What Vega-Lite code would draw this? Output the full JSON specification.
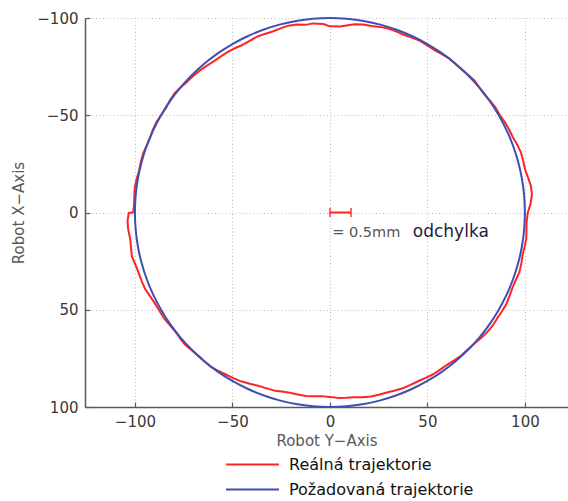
{
  "$schema": "https://vega.github.io/schema/vega-lite/v6.json",
  "width": 483,
  "height": 389,
  "autosize": {"type": "none"},
  "padding": {"left": 85, "top": 18, "right": 0, "bottom": 94},
  "background": "white",
  "datasets": {
    "real": [
      {"a": 0, "x": 101.5, "y": 0},
      {"a": 2.5, "x": 102.9, "y": -4.49},
      {"a": 5, "x": 103.6, "y": -9.06},
      {"a": 7.5, "x": 103.11, "y": -13.58},
      {"a": 10, "x": 101.63, "y": -17.92},
      {"a": 12.5, "x": 100.07, "y": -22.19},
      {"a": 15, "x": 99.1, "y": -26.56},
      {"a": 17.5, "x": 97.95, "y": -30.88},
      {"a": 20, "x": 96.04, "y": -34.95},
      {"a": 22.5, "x": 93.77, "y": -38.84},
      {"a": 25, "x": 91.81, "y": -42.81},
      {"a": 27.5, "x": 89.59, "y": -46.64},
      {"a": 30, "x": 87.04, "y": -50.25},
      {"a": 32.5, "x": 84.85, "y": -54.05},
      {"a": 35, "x": 82.08, "y": -57.47},
      {"a": 37.5, "x": 79.18, "y": -60.75},
      {"a": 40, "x": 76.6, "y": -64.28},
      {"a": 42.5, "x": 74.1, "y": -67.9},
      {"a": 45, "x": 70.85, "y": -70.85},
      {"a": 47.5, "x": 67.42, "y": -73.58},
      {"a": 50, "x": 64.22, "y": -76.53},
      {"a": 52.5, "x": 60.94, "y": -79.41},
      {"a": 55, "x": 57.13, "y": -81.59},
      {"a": 57.5, "x": 53.3, "y": -83.66},
      {"a": 60, "x": 49.7, "y": -86.08},
      {"a": 62.5, "x": 45.99, "y": -88.35},
      {"a": 65, "x": 41.92, "y": -89.91},
      {"a": 67.5, "x": 37.85, "y": -91.37},
      {"a": 70, "x": 33.89, "y": -93.12},
      {"a": 72.5, "x": 29.83, "y": -94.61},
      {"a": 75, "x": 25.57, "y": -95.43},
      {"a": 77.5, "x": 21.25, "y": -95.87},
      {"a": 80, "x": 17.04, "y": -96.61},
      {"a": 82.5, "x": 12.74, "y": -96.76},
      {"a": 84, "x": 10.13, "y": -96.37},
      {"a": 87, "x": 5.01, "y": -95.67},
      {"a": 90, "x": 0, "y": -95.7},
      {"a": 92, "x": -3.39, "y": -96.94},
      {"a": 95, "x": -8.51, "y": -97.23},
      {"a": 97.5, "x": -12.7, "y": -96.47},
      {"a": 100, "x": -17.05, "y": -96.71},
      {"a": 102.5, "x": -21.3, "y": -96.07},
      {"a": 105, "x": -25.36, "y": -94.66},
      {"a": 107.5, "x": -29.35, "y": -93.08},
      {"a": 110, "x": -33.42, "y": -91.81},
      {"a": 112.5, "x": -37.43, "y": -90.36},
      {"a": 115, "x": -41.16, "y": -88.27},
      {"a": 117.5, "x": -44.84, "y": -86.13},
      {"a": 120, "x": -48.75, "y": -84.44},
      {"a": 122.5, "x": -52.55, "y": -82.48},
      {"a": 125, "x": -56.1, "y": -80.11},
      {"a": 127.5, "x": -59.6, "y": -77.67},
      {"a": 130, "x": -63.25, "y": -75.38},
      {"a": 132.5, "x": -66.82, "y": -72.92},
      {"a": 135, "x": -70.15, "y": -70.15},
      {"a": 137.5, "x": -73.29, "y": -67.15},
      {"a": 140, "x": -76.6, "y": -64.28},
      {"a": 142.5, "x": -79.73, "y": -61.18},
      {"a": 145, "x": -82.16, "y": -57.53},
      {"a": 147.5, "x": -84.17, "y": -53.62},
      {"a": 150, "x": -86.6, "y": -50},
      {"a": 152.5, "x": -89.06, "y": -46.36},
      {"a": 155, "x": -90.9, "y": -42.39},
      {"a": 157.5, "x": -92.3, "y": -38.23},
      {"a": 160, "x": -94.06, "y": -34.24},
      {"a": 162.5, "x": -95.85, "y": -30.22},
      {"a": 165, "x": -96.98, "y": -25.99},
      {"a": 167.5, "x": -97.82, "y": -21.69},
      {"a": 170, "x": -99.07, "y": -17.47},
      {"a": 172.5, "x": -100.04, "y": -13.17},
      {"a": 175, "x": -100.32, "y": -8.78},
      {"a": 177.5, "x": -100.4, "y": -4.38},
      {"a": 180, "x": -100.9, "y": 0},
      {"a": 180.5, "x": -103.2, "y": 0.3},
      {"a": 182.5, "x": -103.8, "y": 4.53},
      {"a": 185, "x": -103.4, "y": 9.05},
      {"a": 187.5, "x": -102.42, "y": 13.48},
      {"a": 190, "x": -102.03, "y": 17.99},
      {"a": 192.5, "x": -101.54, "y": 22.51},
      {"a": 195, "x": -99.78, "y": 26.74},
      {"a": 197.5, "x": -98.14, "y": 30.94},
      {"a": 200, "x": -96.6, "y": 35.16},
      {"a": 202.5, "x": -94.79, "y": 39.26},
      {"a": 205, "x": -92.26, "y": 43.02},
      {"a": 207.5, "x": -89.77, "y": 46.73},
      {"a": 210, "x": -87.47, "y": 50.5},
      {"a": 212.5, "x": -85.18, "y": 54.27},
      {"a": 215, "x": -82.32, "y": 57.64},
      {"a": 217.5, "x": -79.49, "y": 61},
      {"a": 220, "x": -76.91, "y": 64.54},
      {"a": 222.5, "x": -74.24, "y": 68.03},
      {"a": 225, "x": -70.85, "y": 70.85},
      {"a": 227.5, "x": -67.49, "y": 73.65},
      {"a": 230, "x": -64.28, "y": 76.6},
      {"a": 232.5, "x": -60.94, "y": 79.41},
      {"a": 235, "x": -57.07, "y": 81.5},
      {"a": 237.5, "x": -53.14, "y": 83.41},
      {"a": 240, "x": -49.25, "y": 85.3},
      {"a": 242.5, "x": -45.25, "y": 86.93},
      {"a": 245, "x": -41.08, "y": 88.09},
      {"a": 247.5, "x": -36.89, "y": 89.06},
      {"a": 250, "x": -32.87, "y": 90.3},
      {"a": 252.5, "x": -28.84, "y": 91.46},
      {"a": 255, "x": -24.67, "y": 92.05},
      {"a": 257.5, "x": -20.54, "y": 92.65},
      {"a": 260, "x": -16.5, "y": 93.56},
      {"a": 262.5, "x": -12.43, "y": 94.39},
      {"a": 265, "x": -8.26, "y": 94.44},
      {"a": 267.5, "x": -4.12, "y": 94.41},
      {"a": 270, "x": 0, "y": 94.8},
      {"a": 272.5, "x": 4.16, "y": 95.31},
      {"a": 275, "x": 8.33, "y": 95.24},
      {"a": 277.5, "x": 12.5, "y": 94.98},
      {"a": 280, "x": 16.74, "y": 94.94},
      {"a": 282.5, "x": 20.97, "y": 94.6},
      {"a": 285, "x": 25.11, "y": 93.7},
      {"a": 287.5, "x": 29.17, "y": 92.51},
      {"a": 290, "x": 33.31, "y": 91.53},
      {"a": 292.5, "x": 37.43, "y": 90.36},
      {"a": 295, "x": 41.33, "y": 88.64},
      {"a": 297.5, "x": 45.16, "y": 86.75},
      {"a": 300, "x": 49.1, "y": 85.04},
      {"a": 302.5, "x": 52.98, "y": 83.16},
      {"a": 305, "x": 56.55, "y": 80.77},
      {"a": 307.5, "x": 60.08, "y": 78.3},
      {"a": 310, "x": 63.76, "y": 75.99},
      {"a": 312.5, "x": 67.36, "y": 73.51},
      {"a": 315, "x": 70.57, "y": 70.57},
      {"a": 317.5, "x": 73.8, "y": 67.63},
      {"a": 320, "x": 77.22, "y": 64.79},
      {"a": 322.5, "x": 80.45, "y": 61.73},
      {"a": 325, "x": 83.31, "y": 58.33},
      {"a": 327.5, "x": 85.69, "y": 54.59},
      {"a": 330, "x": 88.16, "y": 50.9},
      {"a": 332.5, "x": 90.48, "y": 47.1},
      {"a": 335, "x": 92.08, "y": 42.94},
      {"a": 337.5, "x": 93.59, "y": 38.77},
      {"a": 340, "x": 95.38, "y": 34.71},
      {"a": 342.5, "x": 97.18, "y": 30.64},
      {"a": 345, "x": 98.14, "y": 26.3},
      {"a": 347.5, "x": 98.8, "y": 21.9},
      {"a": 350, "x": 99.86, "y": 17.61},
      {"a": 352.5, "x": 100.73, "y": 13.26},
      {"a": 355, "x": 100.81, "y": 8.82},
      {"a": 357.5, "x": 100.9, "y": 4.41},
      {"a": 360, "x": 101.5, "y": 0}
    ],
    "target": [
      {"a": 0, "x": 100, "y": 0},
      {"a": 5, "x": 99.62, "y": -8.72},
      {"a": 10, "x": 98.48, "y": -17.36},
      {"a": 15, "x": 96.59, "y": -25.88},
      {"a": 20, "x": 93.97, "y": -34.2},
      {"a": 25, "x": 90.63, "y": -42.26},
      {"a": 30, "x": 86.6, "y": -50},
      {"a": 35, "x": 81.92, "y": -57.36},
      {"a": 40, "x": 76.6, "y": -64.28},
      {"a": 45, "x": 70.71, "y": -70.71},
      {"a": 50, "x": 64.28, "y": -76.6},
      {"a": 55, "x": 57.36, "y": -81.92},
      {"a": 60, "x": 50, "y": -86.6},
      {"a": 65, "x": 42.26, "y": -90.63},
      {"a": 70, "x": 34.2, "y": -93.97},
      {"a": 75, "x": 25.88, "y": -96.59},
      {"a": 80, "x": 17.36, "y": -98.48},
      {"a": 85, "x": 8.72, "y": -99.62},
      {"a": 90, "x": 0, "y": -100},
      {"a": 95, "x": -8.72, "y": -99.62},
      {"a": 100, "x": -17.36, "y": -98.48},
      {"a": 105, "x": -25.88, "y": -96.59},
      {"a": 110, "x": -34.2, "y": -93.97},
      {"a": 115, "x": -42.26, "y": -90.63},
      {"a": 120, "x": -50, "y": -86.6},
      {"a": 125, "x": -57.36, "y": -81.92},
      {"a": 130, "x": -64.28, "y": -76.6},
      {"a": 135, "x": -70.71, "y": -70.71},
      {"a": 140, "x": -76.6, "y": -64.28},
      {"a": 145, "x": -81.92, "y": -57.36},
      {"a": 150, "x": -86.6, "y": -50},
      {"a": 155, "x": -90.63, "y": -42.26},
      {"a": 160, "x": -93.97, "y": -34.2},
      {"a": 165, "x": -96.59, "y": -25.88},
      {"a": 170, "x": -98.48, "y": -17.36},
      {"a": 175, "x": -99.62, "y": -8.72},
      {"a": 180, "x": -100, "y": 0},
      {"a": 185, "x": -99.62, "y": 8.72},
      {"a": 190, "x": -98.48, "y": 17.36},
      {"a": 195, "x": -96.59, "y": 25.88},
      {"a": 200, "x": -93.97, "y": 34.2},
      {"a": 205, "x": -90.63, "y": 42.26},
      {"a": 210, "x": -86.6, "y": 50},
      {"a": 215, "x": -81.92, "y": 57.36},
      {"a": 220, "x": -76.6, "y": 64.28},
      {"a": 225, "x": -70.71, "y": 70.71},
      {"a": 230, "x": -64.28, "y": 76.6},
      {"a": 235, "x": -57.36, "y": 81.92},
      {"a": 240, "x": -50, "y": 86.6},
      {"a": 245, "x": -42.26, "y": 90.63},
      {"a": 250, "x": -34.2, "y": 93.97},
      {"a": 255, "x": -25.88, "y": 96.59},
      {"a": 260, "x": -17.36, "y": 98.48},
      {"a": 265, "x": -8.72, "y": 99.62},
      {"a": 270, "x": 0, "y": 100},
      {"a": 275, "x": 8.72, "y": 99.62},
      {"a": 280, "x": 17.36, "y": 98.48},
      {"a": 285, "x": 25.88, "y": 96.59},
      {"a": 290, "x": 34.2, "y": 93.97},
      {"a": 295, "x": 42.26, "y": 90.63},
      {"a": 300, "x": 50, "y": 86.6},
      {"a": 305, "x": 57.36, "y": 81.92},
      {"a": 310, "x": 64.28, "y": 76.6},
      {"a": 315, "x": 70.71, "y": 70.71},
      {"a": 320, "x": 76.6, "y": 64.28},
      {"a": 325, "x": 81.92, "y": 57.36},
      {"a": 330, "x": 86.6, "y": 50},
      {"a": 335, "x": 90.63, "y": 42.26},
      {"a": 340, "x": 93.97, "y": 34.2},
      {"a": 345, "x": 96.59, "y": 25.88},
      {"a": 350, "x": 98.48, "y": 17.36},
      {"a": 355, "x": 99.62, "y": 8.72},
      {"a": 360, "x": 100, "y": 0}
    ]
  },
  "layer": [
    {
      "data": {"name": "real"},
      "mark": {"type": "line", "strokeWidth": 2, "strokeJoin": "round"},
      "encoding": {
        "x": {
          "field": "x", "type": "quantitative",
          "scale": {"domain": [-125.6, 122.1], "nice": false, "zero": false},
          "axis": {"values": [-100, -50, 0, 50, 100], "title": "Robot Y−Axis", "labelPadding": 12, "titlePadding": 4}
        },
        "y": {
          "field": "y", "type": "quantitative",
          "scale": {"domain": [-100, 100], "reverse": true, "nice": false, "zero": false},
          "axis": {"values": [-100, -50, 0, 50, 100], "title": "Robot X−Axis", "labelPadding": 12, "titlePadding": 10}
        },
        "order": {"field": "a", "type": "quantitative"},
        "color": {
          "datum": "Reálná trajektorie",
          "scale": {"domain": ["Reálná trajektorie", "Požadovaná trajektorie"], "range": ["#ff2424", "#3e4fb2"]},
          "legend": {
            "orient": "none", "legendX": 140, "legendY": 435, "title": null,
            "symbolType": "stroke", "symbolSize": 2800, "symbolStrokeWidth": 2,
            "clipHeight": 23, "rowPadding": 2,
            "labelFont": "DejaVu Sans", "labelFontSize": 16, "labelColor": "#111",
            "labelOffset": 9, "labelLimit": 320
          }
        }
      }
    },
    {
      "data": {"name": "target"},
      "mark": {"type": "line", "strokeWidth": 2, "interpolate": "catmull-rom"},
      "encoding": {
        "x": {"field": "x", "type": "quantitative"},
        "y": {"field": "y", "type": "quantitative"},
        "order": {"field": "a", "type": "quantitative"},
        "color": {"datum": "Požadovaná trajektorie"}
      }
    },
    {
      "data": {"values": [{"od": 0, "do": 10.8, "y": 0}]},
      "mark": {"type": "rule", "color": "#ff2424", "strokeWidth": 2},
      "encoding": {
        "x": {"field": "od", "type": "quantitative"},
        "x2": {"field": "do"},
        "y": {"field": "y", "type": "quantitative"}
      }
    },
    {
      "data": {"values": [{"x": 0, "y": 0}, {"x": 10.8, "y": 0}]},
      "mark": {"type": "tick", "orient": "vertical", "color": "#ff2424", "size": 9, "thickness": 2},
      "encoding": {
        "x": {"field": "x", "type": "quantitative"},
        "y": {"field": "y", "type": "quantitative"}
      }
    },
    {
      "data": {"values": [{"x": 1.2, "y": 10.5, "t": "= 0.5mm"}]},
      "mark": {"type": "text", "align": "left", "baseline": "middle", "font": "DejaVu Sans", "fontSize": 14.5, "color": "#555"},
      "encoding": {
        "x": {"field": "x", "type": "quantitative"},
        "y": {"field": "y", "type": "quantitative"},
        "text": {"field": "t"}
      }
    },
    {
      "data": {"values": [{"x": 42.5, "y": 9.8, "t": "odchylka"}]},
      "mark": {"type": "text", "align": "left", "baseline": "middle", "font": "DejaVu Sans", "fontSize": 17, "color": "#1c1c44"},
      "encoding": {
        "x": {"field": "x", "type": "quantitative"},
        "y": {"field": "y", "type": "quantitative"},
        "text": {"field": "t"}
      }
    }
  ],
  "config": {
    "view": {"stroke": null},
    "axis": {
      "labelFont": "DejaVu Sans", "labelFontSize": 15, "labelColor": "#383838",
      "titleFont": "DejaVu Sans", "titleFontSize": 15, "titleFontWeight": "normal", "titleColor": "#585858",
      "domainColor": "#5a5a5a", "domainWidth": 1.5,
      "tickColor": "#5a5a5a", "tickSize": -5, "tickWidth": 1.2,
      "grid": true, "gridColor": "#bcbcbc", "gridDash": [1, 2.5], "gridWidth": 1
    }
  }
}
